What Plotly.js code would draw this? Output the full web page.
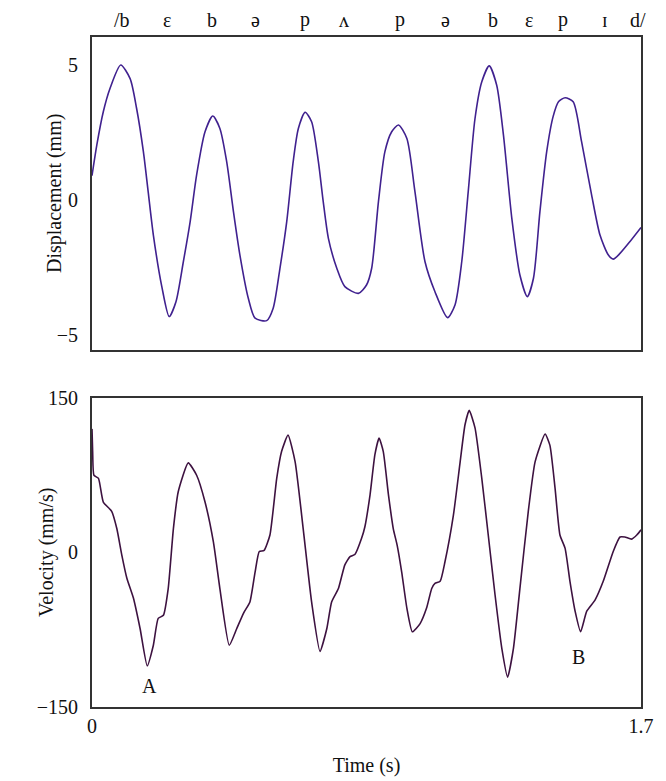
<!DOCTYPE html>
<html>
<head>
<meta charset="utf-8">
<script src="https://cdn.plot.ly/plotly-3.0.1.min.js"></script>
<style>body{margin:0;background:#fff;}</style>
</head>
<body>
<div id="myDiv" style="width:666px;height:781px;"></div>
<script>
// displacement trace (s, mm)
var dispTime = [0.000,0.015,0.035,0.056,0.089,0.118,0.138,0.159,0.174,0.190,0.216,0.239,0.260,0.283,0.304,0.324,0.350,0.374,0.396,0.417,0.438,0.458,0.484,0.505,0.541,0.561,0.582,0.603,0.623,0.639,0.660,0.680,0.701,0.716,0.732,0.758,0.783,0.825,0.850,0.866,0.887,0.907,0.928,0.949,0.975,1.000,1.031,1.062,1.101,1.124,1.145,1.165,1.186,1.207,1.230,1.253,1.274,1.300,1.325,1.348,1.367,1.387,1.408,1.428,1.445,1.465,1.490,1.516,1.547,1.573,1.599,1.614,1.635,1.666,1.700];
var dispVal = [0.90,2.04,3.27,4.14,5.00,4.50,3.40,1.80,0.30,-1.30,-3.20,-4.32,-3.77,-2.28,-0.80,0.93,2.53,3.11,2.65,1.42,-0.43,-2.04,-3.64,-4.38,-4.47,-4.01,-2.53,-0.80,1.42,2.65,3.25,2.90,1.42,-0.06,-1.42,-2.53,-3.21,-3.46,-3.15,-2.53,-0.06,1.79,2.53,2.78,2.28,0.31,-2.28,-3.40,-4.36,-3.89,-2.28,0.31,3.02,4.38,4.97,4.26,2.41,-0.68,-2.78,-3.58,-2.90,-0.43,1.79,3.10,3.65,3.79,3.64,2.16,0.19,-1.30,-2.04,-2.19,-1.98,-1.54,-1.02];

// velocity trace (s, mm/s)
var velTime = [0.000,0.002,0.006,0.020,0.035,0.061,0.077,0.092,0.108,0.128,0.149,0.171,0.190,0.205,0.221,0.236,0.252,0.267,0.298,0.324,0.350,0.376,0.396,0.425,0.448,0.469,0.489,0.505,0.518,0.533,0.551,0.572,0.587,0.607,0.629,0.654,0.680,0.706,0.727,0.742,0.763,0.783,0.799,0.814,0.835,0.845,0.861,0.876,0.889,0.902,0.918,0.933,0.945,0.959,0.975,0.992,1.016,1.036,1.052,1.062,1.078,1.093,1.119,1.140,1.155,1.168,1.186,1.207,1.227,1.248,1.269,1.287,1.305,1.325,1.351,1.372,1.403,1.418,1.434,1.449,1.465,1.480,1.496,1.513,1.532,1.558,1.583,1.614,1.635,1.650,1.671,1.687,1.700];
var velVal = [120,98,75,72,49,40,23,-2,-25,-44,-74,-110,-90,-64,-61,-35,23,59,87,75,49,10,-35,-90,-74,-59,-48,-19,1,2,17,72,98,114,88,23,-48,-96,-74,-48,-35,-12,-4,-2,14,25,56,95,111,98,56,23,7,-19,-54,-77,-69,-54,-35,-30,-28,-9,36,88,124,138,121,72,17,-41,-93,-121,-93,-35,40,88,115,104,62,17,4,-28,-57,-77,-57,-46,-28,1,15,15,13,17,22];

// phonetic transcription above the top panel
var phonemes = ['/b','ɛ','b','ə','p','ʌ','p','ə','b','ɛ','p','ɪ','d/'];
var phonemeTime = [0.092,0.233,0.371,0.505,0.660,0.781,0.954,1.096,1.243,1.354,1.459,1.589,1.692];

// point labels on the velocity trace
var markLabels = ['A','B'];
var markTime = [0.177,1.506];
var markVel = [-130,-101];

var serif = 'Liberation Serif, Times New Roman, serif';
var textFont = {family: serif, size: 20, color: '#111'};

var data = [
  {
    x: dispTime, y: dispVal, xaxis: 'x', yaxis: 'y',
    mode: 'lines', line: {color: '#40218f', width: 1.6, shape: 'spline', smoothing: 0.7},
    hoverinfo: 'x+y'
  },
  {
    x: velTime, y: velVal, xaxis: 'x2', yaxis: 'y2',
    mode: 'lines', line: {color: '#3d1240', width: 1.6, shape: 'spline', smoothing: 0.5},
    hoverinfo: 'x+y'
  }
];

var annotations = [];
for (var i = 0; i < phonemes.length; i++) {
  annotations.push({
    x: phonemeTime[i], y: 1, xref: 'x', yref: 'y domain',
    yanchor: 'bottom', yshift: 4, showarrow: false,
    text: phonemes[i], font: textFont
  });
}
for (var j = 0; j < markLabels.length; j++) {
  annotations.push({
    x: markTime[j], y: markVel[j], xref: 'x2', yref: 'y2',
    showarrow: false, text: markLabels[j], font: textFont
  });
}
// y axis titles, placed by hand like the original figure
annotations.push({
  x: 0, y: 0.5, xref: 'paper', yref: 'y domain', xshift: -51,
  textangle: -90, showarrow: false, text: 'Displacement (mm)', font: textFont
});
annotations.push({
  x: 0, y: 0.5, xref: 'paper', yref: 'y2 domain', xshift: -59,
  textangle: -90, showarrow: false, text: 'Velocity (mm/s)', font: textFont
});

var axisBase = {
  showline: true, mirror: true, linecolor: '#333', linewidth: 2,
  showgrid: false, zeroline: false,
  ticks: 'outside', ticklen: 8, tickcolor: 'rgba(0,0,0,0)',
  tickfont: textFont
};

var layout = {
  width: 666, height: 781,
  margin: {l: 92, r: 25, t: 37, b: 74},
  showlegend: false,
  paper_bgcolor: '#fff', plot_bgcolor: '#fff',
  xaxis: Object.assign({}, axisBase, {
    domain: [0, 1], anchor: 'y', range: [0, 1.7], showticklabels: false, ticks: ''
  }),
  yaxis: Object.assign({}, axisBase, {
    domain: [0.5328, 1], anchor: 'x', range: [-5.56, 6.04],
    tickvals: [-5, 0, 5], ticktext: ['−5', '0', '5']
  }),
  xaxis2: Object.assign({}, axisBase, {
    domain: [0, 1], anchor: 'y2', range: [0, 1.7],
    tickvals: [0, 1.7], ticktext: ['0', '1.7'], ticks: '',
    title: {text: 'Time (s)', font: textFont, standoff: 22}
  }),
  yaxis2: Object.assign({}, axisBase, {
    domain: [0, 0.4612], anchor: 'x2', range: [-150, 150],
    tickvals: [-150, 0, 150], ticktext: ['−150', '0', '150']
  }),
  annotations: annotations
};

Plotly.newPlot('myDiv', data, layout, {displayModeBar: false, staticPlot: true});
</script>
</body>
</html>
